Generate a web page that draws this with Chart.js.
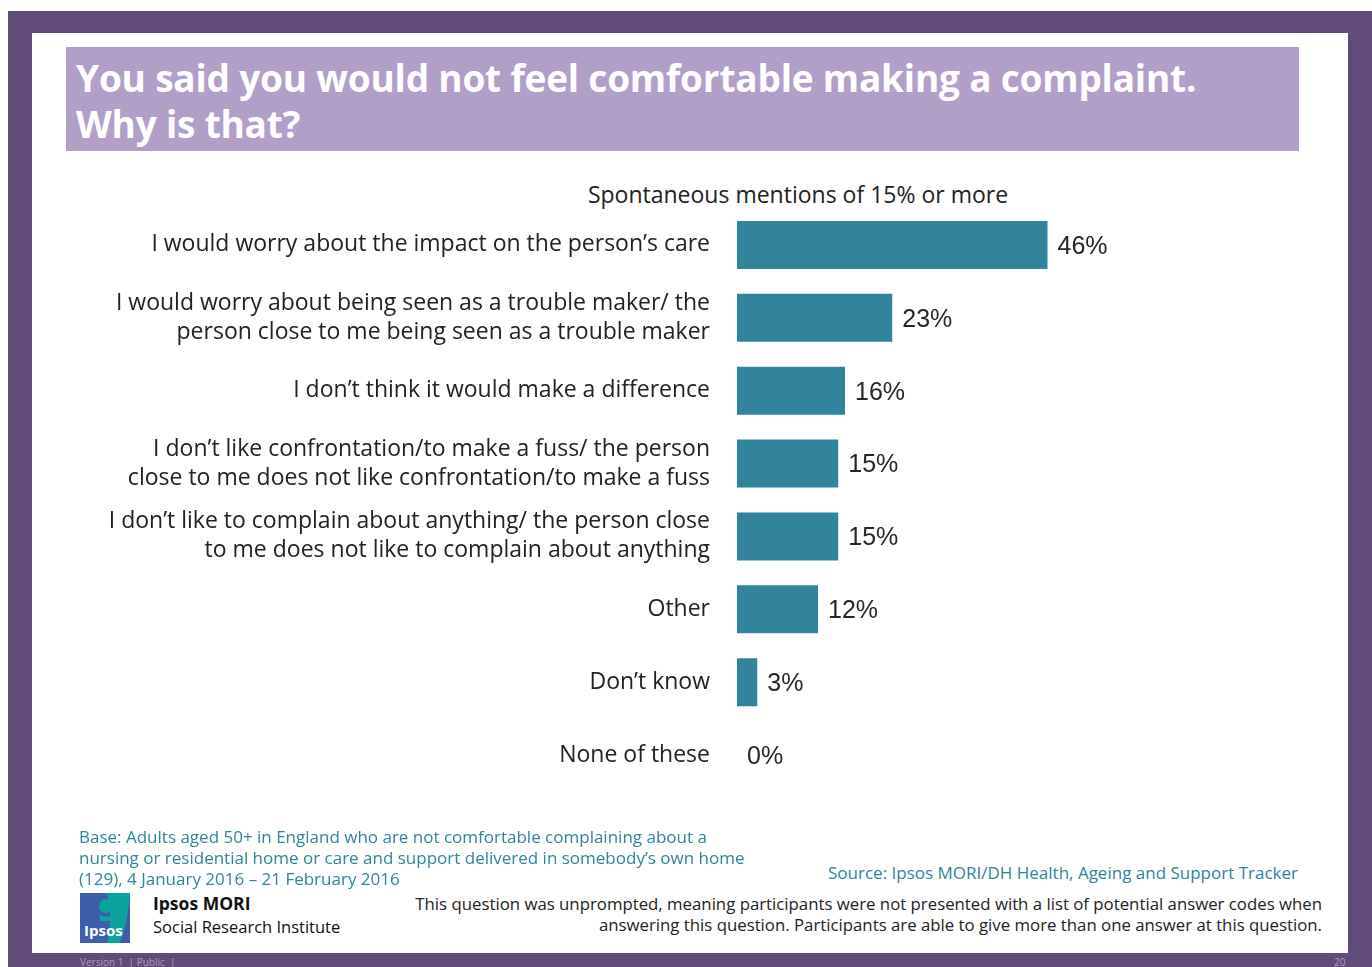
<!DOCTYPE html>
<html>
<head>
<meta charset="utf-8">
<title>Why not comfortable making a complaint</title>
<script src="https://cdn.jsdelivr.net/npm/chart.js@4/dist/chart.umd.min.js"></script>
<style>
  html, body { margin: 0; padding: 0; background: #fff; }
  body { width: 1372px; height: 967px; position: relative; overflow: hidden; font-family: "Open Sans", "Noto Sans", sans-serif; }
  .frame { position: absolute; left: 8px; top: 11px; width: 1364px; height: 956px; background: #614c79; }
  .slide { position: absolute; left: 32px; top: 33px; width: 1316px; height: 920px; background: #fff; }
  .title-bar { position: absolute; left: 66px; top: 47px; width: 1233px; height: 104px; background: #b19fc8; }
  .title-bar h1 { margin: 0; position: absolute; left: 10px; top: 8px; color: #fff; font-size: 37px; line-height: 46px; font-weight: 700; letter-spacing: -0.2px; white-space: nowrap; }
  .subtitle { position: absolute; left: 500px; width: 596px; top: 178px; text-align: center; font-size: 23px; color: #222; }
  #chartWrap { position: absolute; left: 60px; top: 167px; width: 1082px; height: 666px; }
  .base { position: absolute; left: 79px; top: 826px; font-size: 17px; line-height: 21px; color: #31849b; white-space: nowrap; }
  .source { position: absolute; right: 74px; top: 861px; font-size: 17px; color: #31849b; }
  .note { position: absolute; right: 50px; top: 893px; font-size: 16.8px; line-height: 21px; color: #222; text-align: right; white-space: nowrap; }
  .logo { position: absolute; left: 80px; top: 893px; width: 50px; height: 50px; }
  .org { position: absolute; left: 153px; top: 892px; font-size: 16.5px; line-height: 23px; color: #111; }
  .org b { font-weight: 700; font-size: 17.5px; }
  .strip { position: absolute; top: 955px; font-size: 10px; color: #a99cbc; }
</style>
</head>
<body>
<div class="frame"></div>
<div class="slide"></div>
<div class="title-bar"><h1>You said you would not feel comfortable making a complaint.<br>Why is that?</h1></div>
<div class="subtitle">Spontaneous mentions of 15% or more</div>
<div id="chartWrap"><canvas id="reasonsChart" width="1082" height="666"></canvas></div>

<div class="base">Base: Adults aged 50+ in England who are not comfortable complaining about a<br>nursing or residential home or care and support delivered in somebody’s own home<br>(129), 4 January 2016 – 21 February 2016</div>
<div class="source">Source: Ipsos MORI/DH Health, Ageing and Support Tracker</div>
<div class="note">This question was unprompted, meaning participants were not presented with a list of potential answer codes when<br>answering this question. Participants are able to give more than one answer at this question.</div>

<svg class="logo" viewBox="0 0 50 50">
  <rect width="50" height="50" fill="#3d5ea8"/>
  <path d="M27 0 H50 Q48 30 40 50 H27 Q34 25 27 0 Z" fill="#0aa39d"/>
  <circle cx="26" cy="13" r="7" fill="#0aa39d"/>
  <path d="M20 21 Q26 27 32 21 L32 28 L20 28 Z" fill="#0aa39d"/>
  <text x="4" y="43" font-family="Open Sans, sans-serif" font-weight="700" font-size="15" fill="#fff">Ipsos</text>
</svg>
<div class="org"><b>Ipsos MORI</b><br>Social Research Institute</div>
<div class="strip" style="left:80px">Version 1 &nbsp;| Public &nbsp;|</div>
<div class="strip" style="left:1334px">20</div>

<script>
// answers, top to bottom
const categories = [
  ['I would worry about the impact on the person’s care'],
  ['I would worry about being seen as a trouble maker/ the', 'person close to me being seen as a trouble maker'],
  ['I don’t think it would make a difference'],
  ['I don’t like confrontation/to make a fuss/ the person', 'close to me does not like confrontation/to make a fuss'],
  ['I don’t like to complain about anything/ the person close', 'to me does not like to complain about anything'],
  ['Other'],
  ['Don’t know'],
  ['None of these']
];
const percentages = [46, 23, 16, 15, 15, 12, 3, 0];

// percentage text just past the end of each bar
const valueLabels = {
  id: 'valueLabels',
  afterDatasetsDraw(chart) {
    const ctx = chart.ctx;
    const meta = chart.getDatasetMeta(0);
    ctx.save();
    ctx.font = '25px "Liberation Sans", Arial, sans-serif';
    ctx.fillStyle = '#262626';
    ctx.textAlign = 'left';
    ctx.textBaseline = 'middle';
    meta.data.forEach((bar, i) => {
      ctx.fillText(percentages[i] + '%', bar.x + 10, bar.y + 2);
    });
    ctx.restore();
  }
};

const ctx = document.getElementById('reasonsChart').getContext('2d');
new Chart(ctx, {
  type: 'bar',
  data: {
    labels: categories,
    datasets: [{
      data: percentages,
      backgroundColor: '#31849b',
      borderWidth: 0,
      categoryPercentage: 1,
      barPercentage: 0.66
    }]
  },
  options: {
    indexAxis: 'y',
    responsive: false,
    animation: false,
    layout: { padding: 0 },
    plugins: {
      legend: { display: false },
      tooltip: { enabled: false }
    },
    scales: {
      x: {
        display: false,
        min: 0,
        max: 60
      },
      y: {
        afterFit: (scale) => { scale.width = 677; },
        border: { display: false },
        grid: { display: false, drawTicks: false },
        ticks: {
          padding: 27,
          color: '#222',
          font: { family: '"Open Sans", "Noto Sans", sans-serif', size: 23, lineHeight: 1.26 }
        }
      }
    }
  },
  plugins: [valueLabels]
});
</script>
</body>
</html>
